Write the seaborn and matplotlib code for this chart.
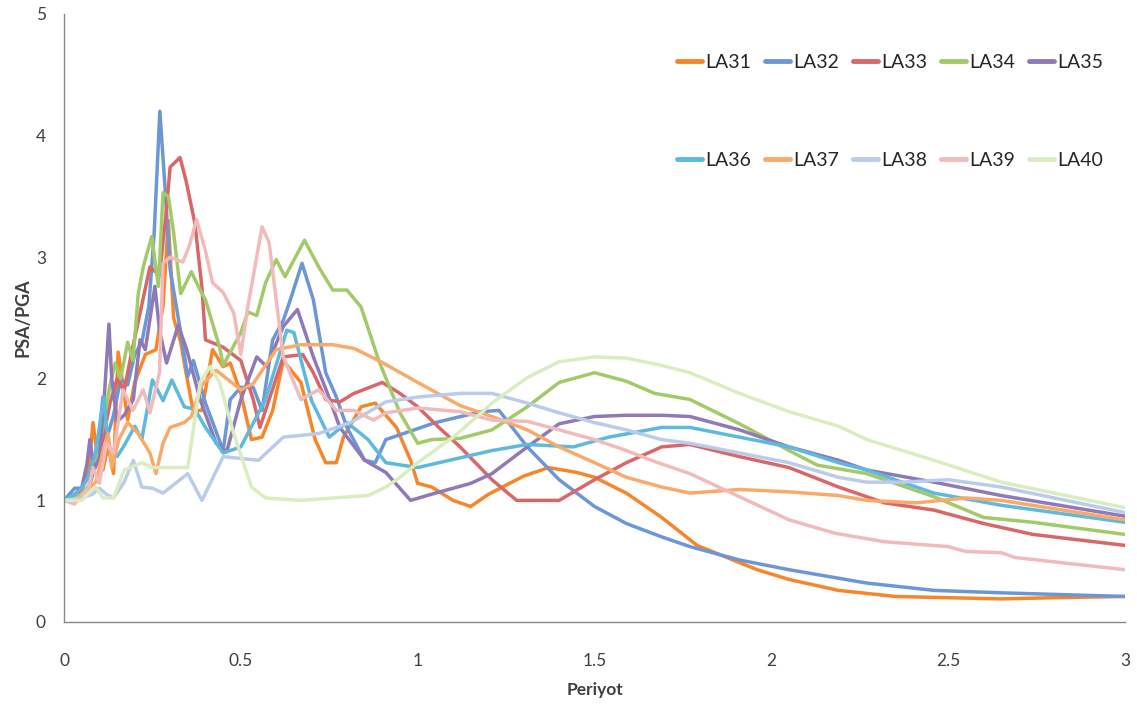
import pandas as pd
import matplotlib
matplotlib.use("Agg")
import matplotlib.pyplot as plt
import seaborn as sns

# series names and colours (Excel-like palette)
names = ["LA31", "LA32", "LA33", "LA34", "LA35", "LA36", "LA37", "LA38", "LA39", "LA40"]
colors = ["#F7862A", "#6C97D6", "#D9676A", "#A3CA68", "#8F79B6",
          "#5DB9DE", "#F9AA6A", "#BACBEC", "#F1BBBB", "#DAEDC0"]

# period / ratio values
x31 = [0, 0.03, 0.05, 0.07, 0.082, 0.095, 0.11, 0.125, 0.14, 0.153,
       0.165, 0.18, 0.2, 0.23, 0.26, 0.28, 0.295, 0.31, 0.33, 0.345,
       0.365, 0.39, 0.42, 0.45, 0.47, 0.5, 0.53, 0.56, 0.59, 0.62,
       0.67, 0.71, 0.74, 0.77, 0.79, 0.84, 0.88, 0.94, 0.98, 1.0,
       1.04, 1.1, 1.15, 1.2, 1.3, 1.37, 1.45, 1.5, 1.59, 1.63,
       1.69, 1.79, 1.9, 1.96, 2.05, 2.19, 2.35, 2.5, 2.65, 2.8, 3.0]
y31 = [1.0, 1.02, 1.08, 1.25, 1.64, 1.35, 1.25, 1.45, 1.22, 2.22,
       1.99, 1.66, 1.97, 2.2, 2.24, 2.6, 3.3, 2.5, 2.3, 2.05,
       1.74, 1.74, 2.24, 2.1, 2.13, 1.88, 1.5, 1.52, 1.74, 2.15,
       1.97, 1.5, 1.31, 1.31, 1.52, 1.77, 1.8, 1.6, 1.33, 1.14,
       1.11, 1.0, 0.95, 1.05, 1.2, 1.27, 1.23, 1.19, 1.06, 0.98,
       0.86, 0.63, 0.5, 0.43, 0.35, 0.26, 0.21, 0.2, 0.19, 0.2, 0.21]

x32 = [0, 0.03, 0.05, 0.07, 0.09, 0.1, 0.11, 0.12, 0.14, 0.16,
       0.18, 0.2, 0.22, 0.24, 0.255, 0.271, 0.285, 0.3, 0.33, 0.35,
       0.366, 0.4, 0.45, 0.47, 0.5, 0.535, 0.56, 0.59, 0.62, 0.64,
       0.673, 0.705, 0.74, 0.77, 0.8, 0.85, 0.88, 0.91, 0.96, 1.05,
       1.18, 1.23, 1.31, 1.4, 1.5, 1.59, 1.69, 1.77, 1.91, 2.05,
       2.19, 2.27, 2.46, 2.65, 3.0]
y32 = [1.0, 1.1, 1.1, 1.2, 1.4, 1.55, 1.85, 1.5, 1.7, 2.0,
       1.95, 2.2, 2.3, 2.6, 3.2, 4.2, 3.6, 2.9, 2.38, 2.02,
       2.15, 1.8, 1.41, 1.83, 1.93, 1.93, 1.74, 2.32, 2.48, 2.65,
       2.95, 2.65, 2.05, 1.85, 1.6, 1.33, 1.31, 1.5, 1.55, 1.64,
       1.73, 1.74, 1.44, 1.17, 0.95, 0.81, 0.7, 0.62, 0.51, 0.43,
       0.36, 0.32, 0.26, 0.24, 0.21]

x33 = [0, 0.03, 0.05, 0.07, 0.09, 0.11, 0.13, 0.15, 0.17, 0.19,
       0.215, 0.243, 0.27, 0.29, 0.3, 0.328, 0.345, 0.37, 0.39, 0.4,
       0.45, 0.5, 0.535, 0.554, 0.58, 0.62, 0.675, 0.705, 0.74, 0.78,
       0.82, 0.9, 0.95, 1.0, 1.06, 1.12, 1.21, 1.28, 1.4, 1.5,
       1.59, 1.69, 1.77, 1.91, 2.05, 2.19, 2.32, 2.46, 2.6, 2.74, 3.0]
y33 = [1.0, 1.0, 1.05, 1.1, 1.3, 1.5, 1.8, 2.0, 1.9, 2.2,
       2.54, 2.92, 2.85, 3.4, 3.74, 3.82, 3.63, 3.28, 2.75, 2.32,
       2.26, 2.15, 1.83, 1.6, 1.83, 2.18, 2.2, 2.05, 1.83, 1.81,
       1.88, 1.97, 1.88, 1.77, 1.6, 1.44, 1.17, 1.0, 1.0, 1.17,
       1.31, 1.44, 1.46, 1.36, 1.27, 1.11, 0.98, 0.92, 0.81, 0.72, 0.63]

x34 = [0, 0.03, 0.05, 0.07, 0.09, 0.11, 0.13, 0.145, 0.16, 0.18,
       0.195, 0.21, 0.224, 0.248, 0.267, 0.28, 0.295, 0.31, 0.33, 0.36,
       0.385, 0.4, 0.44, 0.45, 0.5, 0.52, 0.545, 0.57, 0.6, 0.625,
       0.68, 0.72, 0.76, 0.8, 0.84, 0.89, 0.95, 1.0, 1.04, 1.12,
       1.21, 1.31, 1.4, 1.5, 1.59, 1.67, 1.77, 1.91, 2.05, 2.13,
       2.27, 2.46, 2.6, 2.74, 3.0]
y34 = [1.0, 1.02, 1.05, 1.12, 1.35, 1.6, 1.95, 2.13, 2.0, 2.3,
       2.15, 2.7, 2.92, 3.17, 2.76, 3.53, 3.5, 3.2, 2.7, 2.88,
       2.73, 2.65, 2.26, 2.11, 2.38, 2.55, 2.52, 2.79, 2.98, 2.84,
       3.14, 2.92, 2.73, 2.73, 2.59, 2.15, 1.72, 1.47, 1.5, 1.51,
       1.58, 1.77, 1.97, 2.05, 1.98, 1.88, 1.83, 1.63, 1.41, 1.29,
       1.22, 1.03, 0.86, 0.82, 0.72]

x35 = [0, 0.03, 0.05, 0.065, 0.073, 0.085, 0.1, 0.115, 0.127, 0.135,
       0.15, 0.17, 0.196, 0.215, 0.23, 0.257, 0.27, 0.29, 0.323, 0.347,
       0.385, 0.43, 0.46, 0.5, 0.545, 0.573, 0.62, 0.66, 0.705, 0.745,
       0.78, 0.85, 0.91, 0.98, 1.05, 1.15, 1.21, 1.31, 1.4, 1.5,
       1.59, 1.69, 1.77, 1.91, 2.05, 2.19, 2.27, 2.46, 2.65, 3.0]
y35 = [1.0, 1.05, 1.1, 1.3, 1.5, 1.25, 1.35, 1.9, 2.45, 2.0,
       1.65, 1.7, 1.83, 2.32, 2.24, 2.76, 2.4, 2.13, 2.44, 2.24,
       1.83, 1.47, 1.4, 1.83, 2.18, 2.1, 2.43, 2.57, 2.18, 1.88,
       1.6, 1.33, 1.23, 1.0, 1.06, 1.14, 1.22, 1.44, 1.63, 1.69,
       1.7, 1.7, 1.69, 1.58, 1.44, 1.33, 1.25, 1.15, 1.04, 0.87]

x36 = [0, 0.03, 0.05, 0.07, 0.09, 0.105, 0.113, 0.125, 0.15, 0.17,
       0.2, 0.22, 0.25, 0.28, 0.305, 0.34, 0.37, 0.4, 0.45, 0.5,
       0.57, 0.63, 0.65, 0.7, 0.75, 0.8, 0.86, 0.91, 1.0, 1.18,
       1.21, 1.31, 1.44, 1.54, 1.69, 1.77, 1.91, 2.05, 2.19, 2.27,
       2.46, 2.65, 3.0]
y36 = [1.0, 1.05, 1.1, 1.2, 1.4, 1.7, 1.85, 1.45, 1.36, 1.45,
       1.61, 1.5, 1.99, 1.82, 1.99, 1.77, 1.75, 1.6, 1.39, 1.44,
       1.83, 2.4, 2.38, 1.82, 1.52, 1.64, 1.5, 1.31, 1.27, 1.39,
       1.41, 1.46, 1.44, 1.52, 1.6, 1.6, 1.52, 1.44, 1.31, 1.25,
       1.06, 0.96, 0.82]

x37 = [0, 0.03, 0.05, 0.07, 0.09, 0.11, 0.125, 0.135, 0.155, 0.18,
       0.21, 0.243, 0.26, 0.28, 0.3, 0.34, 0.36, 0.39, 0.43, 0.5,
       0.535, 0.6, 0.67, 0.76, 0.82, 0.89, 1.0, 1.12, 1.21, 1.31,
       1.4, 1.5, 1.59, 1.69, 1.77, 1.91, 2.05, 2.19, 2.27, 2.41,
       2.55, 2.65, 3.0]
y37 = [1.0, 1.0, 1.05, 1.1, 1.15, 1.4, 1.55, 1.27, 1.5, 1.64,
       1.55, 1.39, 1.22, 1.47, 1.6, 1.64, 1.69, 1.95, 2.07, 1.91,
       1.96, 2.24, 2.28, 2.28, 2.25, 2.15, 1.97, 1.78, 1.69, 1.58,
       1.44, 1.31, 1.19, 1.11, 1.06, 1.09, 1.07, 1.04, 1.0, 0.98,
       1.02, 1.0, 0.84]

x38 = [0, 0.05, 0.08, 0.1, 0.12, 0.14, 0.17, 0.196, 0.22, 0.25,
       0.28, 0.35, 0.39, 0.45, 0.55, 0.62, 0.72, 0.81, 0.91, 1.0,
       1.12, 1.21, 1.31, 1.4, 1.5, 1.59, 1.69, 1.77, 1.91, 2.05,
       2.19, 2.27, 2.37, 2.5, 2.65, 3.0]
y38 = [1.0, 1.02, 1.05, 1.1, 1.05, 1.02, 1.15, 1.33, 1.11, 1.1,
       1.06, 1.22, 1.0, 1.36, 1.33, 1.52, 1.55, 1.64, 1.81, 1.85,
       1.88, 1.88, 1.8, 1.72, 1.64, 1.58, 1.5, 1.47, 1.39, 1.31,
       1.19, 1.15, 1.15, 1.17, 1.11, 0.9]

x39 = [0, 0.03, 0.05, 0.07, 0.082, 0.1, 0.12, 0.14, 0.167, 0.195,
       0.224, 0.243, 0.27, 0.28, 0.3, 0.336, 0.355, 0.375, 0.4, 0.42,
       0.45, 0.48, 0.5, 0.52, 0.535, 0.56, 0.58, 0.6, 0.62, 0.67,
       0.72, 0.77, 0.82, 0.875, 0.91, 1.0, 1.12, 1.21, 1.31, 1.4,
       1.5, 1.59, 1.67, 1.77, 1.91, 2.05, 2.18, 2.32, 2.5, 2.55,
       2.65, 2.69, 3.0]
y39 = [1.0, 0.97, 1.04, 1.1, 1.27, 1.14, 1.47, 1.39, 1.91, 1.74,
       1.91, 1.72, 2.05, 2.95, 3.0, 2.96, 3.1, 3.31, 3.05, 2.79,
       2.71, 2.54, 2.2, 2.6, 2.84, 3.25, 3.12, 2.65, 2.18, 1.83,
       1.91, 1.74, 1.74, 1.66, 1.72, 1.76, 1.73, 1.66, 1.65, 1.58,
       1.5, 1.41, 1.32, 1.22, 1.03, 0.84, 0.73, 0.66, 0.62, 0.58,
       0.57, 0.53, 0.43]

x40 = [0, 0.05, 0.07, 0.09, 0.11, 0.14, 0.17, 0.22, 0.25, 0.3,
       0.35, 0.385, 0.413, 0.44, 0.48, 0.53, 0.57, 0.67, 0.76, 0.86,
       0.91, 0.95, 1.0, 1.1, 1.18, 1.21, 1.31, 1.4, 1.5, 1.59,
       1.69, 1.77, 1.91, 2.05, 2.19, 2.27, 2.46, 2.65, 3.0]
y40 = [1.0, 1.0, 1.06, 1.11, 1.02, 1.02, 1.25, 1.31, 1.27, 1.27,
       1.27, 1.97, 2.1, 1.97, 1.55, 1.11, 1.02, 1.0, 1.02, 1.04,
       1.11, 1.19, 1.31, 1.52, 1.72, 1.8, 2.01, 2.14, 2.18, 2.17,
       2.11, 2.05, 1.88, 1.73, 1.61, 1.5, 1.33, 1.15, 0.94]

xs = [x31, x32, x33, x34, x35, x36, x37, x38, x39, x40]
ys = [y31, y32, y33, y34, y35, y36, y37, y38, y39, y40]

# long-form table for seaborn
frames = []
for name, xv, yv in zip(names, xs, ys):
    frames.append(pd.DataFrame({"Periyot": xv, "PSA/PGA": yv, "Kayit": name}))
df = pd.concat(frames, ignore_index=True)

sns.set_style("white")
plt.rcParams["font.family"] = ["Lato", "DejaVu Sans"]

fig = plt.figure(figsize=(11.37, 7.04), dpi=100)
ax = fig.add_axes([64 / 1137, 82 / 704, 1061 / 1137, 608 / 704])

sns.lineplot(data=df, x="Periyot", y="PSA/PGA", hue="Kayit", hue_order=names,
             palette=colors, estimator=None, sort=False, linewidth=2.5,
             legend=False, ax=ax)
for ln in ax.lines:
    ln.set_solid_joinstyle("round")
    ln.set_solid_capstyle("round")

ax.set_xlim(0, 3)
ax.set_ylim(0, 5)
ax.set_xticks([0, 0.5, 1, 1.5, 2, 2.5, 3])
ax.set_xticklabels(["0", "0.5", "1", "1.5", "2", "2.5", "3"])
ax.set_yticks([0, 1, 2, 3, 4, 5])
ax.tick_params(axis="x", length=0, pad=22, labelsize=12.5, labelcolor="#404040")
ax.tick_params(axis="y", length=0, pad=13, labelsize=12.5, labelcolor="#404040")

for side in ["top", "right"]:
    ax.spines[side].set_visible(False)
for side in ["left", "bottom"]:
    ax.spines[side].set_color("#868686")
    ax.spines[side].set_linewidth(1.0)

ax.set_xlabel("Periyot", fontsize=12.5, fontweight="bold", color="#404040")
ax.set_ylabel("PSA/PGA", fontsize=13, fontweight="bold", color="#404040")
ax.xaxis.set_label_coords(0.5, -0.098)
ax.yaxis.set_label_coords(-0.031, 0.5)

# legend: two rows of five (matplotlib fills column by column)
order = [0, 5, 1, 6, 2, 7, 3, 8, 4, 9]
handles = [plt.Line2D([], [], color=colors[i], linewidth=3.5, solid_capstyle="round") for i in order]
labels = [names[i] for i in order]
fig.legend(handles, labels, ncol=5, loc="upper left",
           bbox_to_anchor=(667 / 1137, 1 - 44 / 704), frameon=False,
           fontsize=14, handlelength=1.3, handletextpad=0.15,
           columnspacing=0.72, labelspacing=4.16, borderpad=0,
           labelcolor="#262626")

fig.savefig("out.png", dpi=100)
